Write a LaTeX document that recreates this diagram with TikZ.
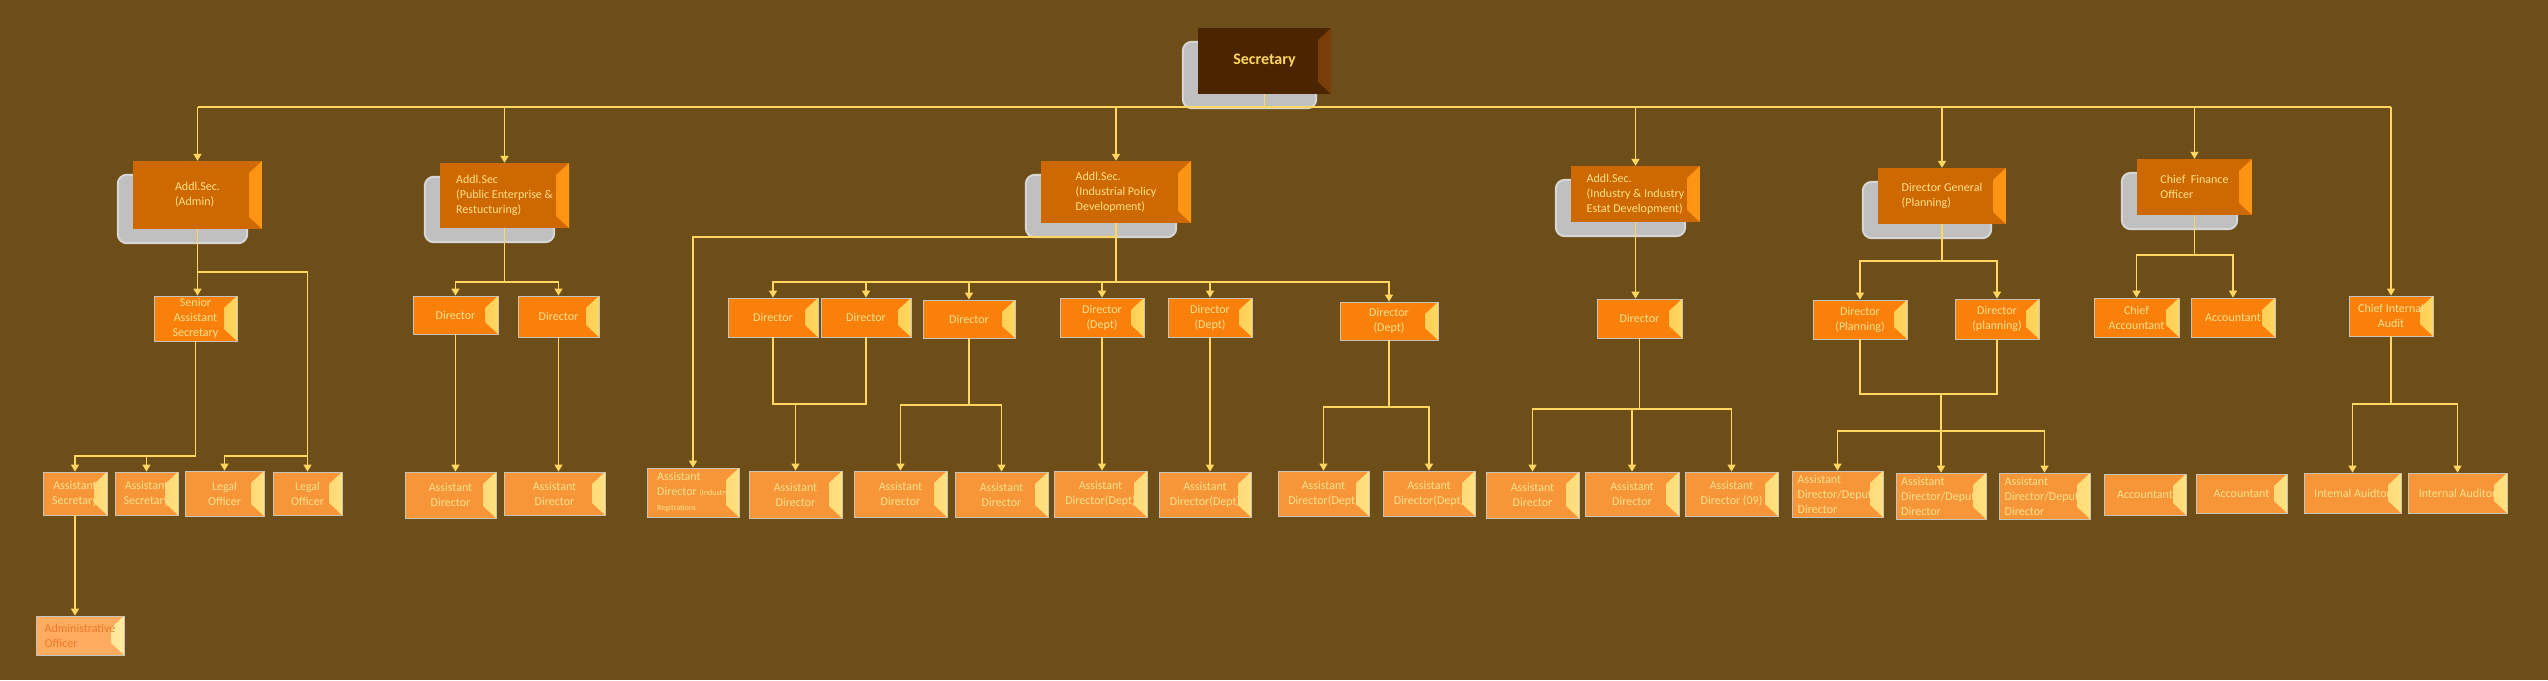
\documentclass[tikz,border=0pt]{standalone}
\usepackage{fontspec}
\setmainfont{Carlito}
\usetikzlibrary{arrows.meta,backgrounds}
\definecolor{bgbrown}{RGB}{110,78,24}
\definecolor{linkyellow}{RGB}{255,214,96}
\definecolor{secfill}{RGB}{74,37,0}
\definecolor{secin}{RGB}{88,44,0}
\definecolor{secout}{RGB}{124,62,10}
\definecolor{sectext}{RGB}{255,214,96}
\definecolor{addlfill}{RGB}{206,104,0}
\definecolor{addlin}{RGB}{226,118,0}
\definecolor{addlout}{RGB}{255,150,20}
\definecolor{dirfill}{RGB}{250,128,12}
\definecolor{dirin}{RGB}{255,150,30}
\definecolor{dirout}{RGB}{255,216,96}
\definecolor{asstfill}{RGB}{246,150,56}
\definecolor{asstin}{RGB}{250,168,66}
\definecolor{asstout}{RGB}{255,226,128}
\definecolor{offfill}{RGB}{255,172,96}
\definecolor{offin}{RGB}{255,190,110}
\definecolor{offout}{RGB}{255,236,160}
\definecolor{offtext}{RGB}{236,120,40}
\definecolor{boxtext}{RGB}{255,226,140}
\definecolor{boxedge}{RGB}{200,196,186}
\definecolor{shadowgray}{RGB}{192,192,192}
\definecolor{shadowrim}{RGB}{214,214,214}
\tikzset{
  bevel/.style 2 args={path picture={%
    \shade[left color=#1, right color=#2] (path picture bounding box.north east) -- (path picture bounding box.south east)
      -- ([shift={(-13pt,12pt)}]path picture bounding box.south east)
      -- ([shift={(-13pt,-12pt)}]path picture bounding box.north east) -- cycle;}},
  orgbox/.style 2 args={rectangle, inner sep=2pt, minimum width=#1pt, minimum height=#2pt,
    text=boxtext, font=\fontsize{12}{15}\selectfont, align=center},
  secbox/.style={fill=secfill, bevel={secin}{secout}, text=sectext, font=\fontsize{16}{18}\selectfont\bfseries},
  addlbox/.style={fill=addlfill, bevel={addlin}{addlout}, align=left},
  dirbox/.style={fill=dirfill, bevel={dirin}{dirout}, draw=boxedge, line width=0.8pt},
  asstbox/.style={fill=asstfill, bevel={asstin}{asstout}, draw=boxedge, line width=0.8pt},
  offbox/.style={fill=offfill, bevel={offin}{offout}, draw=boxedge, line width=0.8pt, text=offtext},
  shadowbox/.style={fill=shadowgray, draw=shadowrim, line width=2pt, rounded corners=9pt},
  conn/.style={draw=linkyellow, line width=1.5pt},
  arr/.style={conn, -{Triangle[width=8pt,length=7pt]}},
}
\begin{document}
\begin{tikzpicture}[x=1pt,y=-1pt]
                \useasboundingbox (0,0) rectangle (2548,680);%

                % Box Secretary
                \node[orgbox={133}{66}, secbox] (sec) at (1264.5,61) {Secretary};%

                % Boxes of the Addl. Sec. row
                \node[orgbox={129}{68}, addlbox] (adm) at (197.5,195) {Addl.Sec.\\(Admin)};%
                \node[orgbox={129}{65}, addlbox] (pe) at (504.5,195.5) {Addl.Sec\\(Public Enterprise \&\\Restucturing)};%
                \node[orgbox={150}{62}, addlbox] (ipd) at (1116,192) {Addl.Sec.\\(Industrial Policy\\Development)};%
                \node[orgbox={129}{56}, addlbox] (ied) at (1635.5,194) {Addl.Sec.\\(Industry \& Industry\\Estat Development)};%
                \node[orgbox={128}{56}, addlbox] (dgp) at (1942,196) {Director General\\(Planning)};%
                \node[orgbox={115}{56}, addlbox] (cfo) at (2194.5,187) {Chief\ \ Finance\\Officer};%

                % Boxes of the Director row
                \node[orgbox={83}{45}, dirbox] (sas) at (195.5,318.5) {Senior\\Assistant\\Secretary};%
                \node[orgbox={85}{38}, dirbox] (ped1) at (455.5,315) {Director};%
                \node[orgbox={81}{41}, dirbox] (ped2) at (558.5,316.5) {Director};%
                \node[orgbox={90}{39}, dirbox] (ipd1) at (773,317.5) {Director};%
                \node[orgbox={90}{39}, dirbox] (ipd2) at (866,317.5) {Director};%
                \node[orgbox={92}{38}, dirbox] (ipd3) at (969,319) {Director};%
                \node[orgbox={84}{39}, dirbox] (ipd4) at (1102,317.5) {Director\\(Dept)};%
                \node[orgbox={84}{39}, dirbox] (ipd5) at (1210,317.5) {Director\\(Dept)};%
                \node[orgbox={98}{38}, dirbox] (ipd6) at (1389,321) {Director\\(Dept)};%
                \node[orgbox={85}{39}, dirbox] (iedd) at (1639.5,318.5) {Director};%
                \node[orgbox={94}{39}, dirbox] (dpl1) at (1860,319.5) {Director\\(Planning)};%
                \node[orgbox={84}{40}, dirbox] (dpl2) at (1997,319) {Director\\(planning)};%
                \node[orgbox={85}{39}, dirbox] (cacc) at (2136.5,317.5) {Chief\\Accountant};%
                \node[orgbox={84}{39}, dirbox] (acc) at (2233,317.5) {Accountant};%
                \node[orgbox={84}{40}, dirbox] (cia) at (2391,316) {Chief Internal\\Audit};%

                % Boxes of the Assistant row
                \node[orgbox={64}{43}, asstbox] (as1) at (75,493.5) {Assistant\\Secretary};%
                \node[orgbox={63}{43}, asstbox] (as2) at (146.5,493.5) {Assistant\\Secretary};%
                \node[orgbox={79}{45}, asstbox] (lo1) at (224.5,493.5) {Legal\\Officer};%
                \node[orgbox={69}{43}, asstbox] (lo2) at (307.5,493.5) {Legal\\Officer};%
                \node[orgbox={91}{46}, asstbox] (pea1) at (450.5,495) {Assistant\\Director};%
                \node[orgbox={101}{43}, asstbox] (pea2) at (554.5,493.5) {Assistant\\Director};%
                \node[orgbox={92}{49}, asstbox, align=left] (adir) at (693,492.5) {Assistant\\Director {\fontsize{8}{9}\selectfont (Industry}\\{\fontsize{8}{9}\selectfont Regitrations}};%
                \node[orgbox={93}{47}, asstbox] (ipa1) at (795.5,494.5) {Assistant\\Director};%
                \node[orgbox={93}{46}, asstbox] (ipa2) at (900.5,494) {Assistant\\Director};%
                \node[orgbox={93}{45}, asstbox] (ipa3) at (1001.5,494.5) {Assistant\\Director};%
                \node[orgbox={93}{46}, asstbox] (ipa4) at (1100.5,494) {Assistant\\Director(Dept)};%
                \node[orgbox={92}{45}, asstbox] (ipa5) at (1205,494.5) {Assistant\\Director(Dept)};%
                \node[orgbox={91}{45}, asstbox] (ipa6) at (1323.5,493.5) {Assistant\\Director(Dept)};%
                \node[orgbox={92}{45}, asstbox] (ipa7) at (1429,493.5) {Assistant\\Director(Dept)};%
                \node[orgbox={93}{46}, asstbox] (iea1) at (1532.5,495) {Assistant\\Director};%
                \node[orgbox={94}{44}, asstbox] (iea2) at (1632,494) {Assistant\\Director};%
                \node[orgbox={93}{44}, asstbox] (iea3) at (1731.5,494) {Assistant\\Director (09)};%
                \node[orgbox={91}{46}, asstbox, align=left] (pla1) at (1837.5,494) {Assistant\\Director/Deputy\\Director};%
                \node[orgbox={90}{46}, asstbox, align=left] (pla2) at (1941,496) {Assistant\\Director/Deputy\\Director};%
                \node[orgbox={91}{46}, asstbox, align=left] (pla3) at (2044.5,496) {Assistant\\Director/Deputy\\Director};%
                \node[orgbox={82}{41}, asstbox] (acc1) at (2145,494.5) {Accountant};%
                \node[orgbox={91}{39}, asstbox] (acc2) at (2241.5,493.5) {Accountant};%
                \node[orgbox={97}{40}, asstbox] (iau1) at (2352.5,493) {Intemal Auidtor};%
                \node[orgbox={99}{40}, asstbox] (iau2) at (2457.5,493) {Internal Auditor};%

                % Box Administrative Officer
                \node[orgbox={88}{39}, offbox, align=left] (ao) at (80,635.5) {Administrative\\Officer};%

                % Background and shadows
                \begin{scope}[on background layer]
                \fill[bgbrown] (0,0) rectangle (2548,680);%
                \draw[shadowbox] ([shift={(-15pt,-14pt)}]sec.north west) rectangle ([shift={(-15pt,-14pt)}]sec.south east);%
                \draw[shadowbox] ([shift={(-15pt,-14pt)}]adm.north west) rectangle ([shift={(-15pt,-14pt)}]adm.south east);%
                \draw[shadowbox] ([shift={(-15pt,-14pt)}]pe.north west) rectangle ([shift={(-15pt,-14pt)}]pe.south east);%
                \draw[shadowbox] ([shift={(-15pt,-14pt)}]ipd.north west) rectangle ([shift={(-15pt,-14pt)}]ipd.south east);%
                \draw[shadowbox] ([shift={(-15pt,-14pt)}]ied.north west) rectangle ([shift={(-15pt,-14pt)}]ied.south east);%
                \draw[shadowbox] ([shift={(-15pt,-14pt)}]dgp.north west) rectangle ([shift={(-15pt,-14pt)}]dgp.south east);%
                \draw[shadowbox] ([shift={(-15pt,-14pt)}]cfo.north west) rectangle ([shift={(-15pt,-14pt)}]cfo.south east);%
                \end{scope}

                % Junction levels
                \coordinate (bus) at (0,107);%
                \coordinate (admj) at (0,272);%
                \coordinate (sasj) at (0,456);%
                \coordinate (pej) at (0,282);%
                \coordinate (ipdr) at (0,237);%
                \coordinate (ipdj) at (0,282);%
                \coordinate (dj1) at (0,404);%
                \coordinate (dj3) at (0,405);%
                \coordinate (dj6) at (0,407);%
                \coordinate (iedj) at (0,409);%
                \coordinate (dgpj) at (0,261);%
                \coordinate (dplj) at (0,394);%
                \coordinate (plaj) at (0,431);%
                \coordinate (cfoj) at (0,255);%
                \coordinate (ciaj) at (0,404);%

                % Drawing the top bus
                \draw[conn] (sec.south) -- (sec |- bus);%
                \draw[conn] (adm |- bus) -- (cia |- bus);%
                \draw[arr] (adm |- bus) -- (adm.north);%
                \draw[arr] (pe |- bus) -- (pe.north);%
                \draw[arr] (ipd |- bus) -- (ipd.north);%
                \draw[arr] (ied |- bus) -- (ied.north);%
                \draw[arr] (dgp |- bus) -- (dgp.north);%
                \draw[arr] (cfo |- bus) -- (cfo.north);%
                \draw[arr] (cia |- bus) -- (cia.north);%

                % Drawing links of Admin
                \draw[arr] (adm.south) -- (adm.south |- sas.north);%
                \draw[arr] (adm |- admj) -| (lo2.north);%
                \draw[conn] (sas.south) -- (sas |- sasj);%
                \draw[arr] (sas |- sasj) -| (as1.north);%
                \draw[arr] (sas |- sasj) -| (as2.north);%
                \draw[arr] (lo2 |- sasj) -| (lo1.north);%
                \draw[arr] (as1.south) -- (as1.south |- ao.north);%

                % Drawing links of Public Enterprise
                \draw[conn] (pe.south) -- (pe |- pej);%
                \draw[arr] (pe |- pej) -| (ped1.north);%
                \draw[arr] (pe |- pej) -| (ped2.north);%
                \draw[arr] (ped1.south) -- (ped1.south |- pea1.north);%
                \draw[arr] (ped2.south) -- (ped2.south |- pea2.north);%

                % Drawing links of Industrial Policy
                \draw[conn] (ipd.south) -- (ipd |- ipdj);%
                \draw[arr] (ipd |- ipdr) -| (adir.north);%
                \draw[arr] (ipd |- ipdj) -| (ipd1.north);%
                \draw[arr] (ipd |- ipdj) -| (ipd2.north);%
                \draw[arr] (ipd |- ipdj) -| (ipd3.north);%
                \draw[arr] (ipd |- ipdj) -| (ipd4.north);%
                \draw[arr] (ipd |- ipdj) -| (ipd5.north);%
                \draw[arr] (ipd |- ipdj) -| (ipd6.north);%
                \draw[conn] (ipd1.south) |- (dj1 -| ipd2) -- (ipd2.south);%
                \draw[arr] (ipa1 |- dj1) -- (ipa1.north);%
                \draw[conn] (ipd3.south) -- (ipd3 |- dj3);%
                \draw[arr] (ipd3 |- dj3) -| (ipa2.north);%
                \draw[arr] (ipd3 |- dj3) -| (ipa3.north);%
                \draw[arr] (ipd4.south) -- (ipd4.south |- ipa4.north);%
                \draw[arr] (ipd5.south) -- (ipd5.south |- ipa5.north);%
                \draw[conn] (ipd6.south) -- (ipd6 |- dj6);%
                \draw[arr] (ipd6 |- dj6) -| (ipa6.north);%
                \draw[arr] (ipd6 |- dj6) -| (ipa7.north);%

                % Drawing links of Industry Estate
                \draw[arr] (ied.south) -- (ied.south |- iedd.north);%
                \draw[conn] (iedd.south) -- (iedd |- iedj);%
                \draw[arr] (iedd |- iedj) -| (iea1.north);%
                \draw[arr] (iedd |- iedj) -| (iea2.north);%
                \draw[arr] (iedd |- iedj) -| (iea3.north);%

                % Drawing links of Planning
                \draw[conn] (dgp.south) -- (dgp |- dgpj);%
                \draw[arr] (dgp |- dgpj) -| (dpl1.north);%
                \draw[arr] (dgp |- dgpj) -| (dpl2.north);%
                \draw[conn] (dpl1.south) |- (dplj -| dpl2) -- (dpl2.south);%
                \draw[conn] (pla2 |- dplj) -- (pla2 |- plaj);%
                \draw[arr] (pla2 |- plaj) -| (pla1.north);%
                \draw[arr] (pla2 |- plaj) -- (pla2.north);%
                \draw[arr] (pla2 |- plaj) -| (pla3.north);%

                % Drawing links of Finance
                \draw[conn] (cfo.south) -- (cfo |- cfoj);%
                \draw[arr] (cfo |- cfoj) -| (cacc.north);%
                \draw[arr] (cfo |- cfoj) -| (acc.north);%

                % Drawing links of Internal Audit
                \draw[conn] (cia.south) -- (cia |- ciaj);%
                \draw[arr] (cia |- ciaj) -| (iau1.north);%
                \draw[arr] (cia |- ciaj) -| (iau2.north);%
\end{tikzpicture}
\end{document}
